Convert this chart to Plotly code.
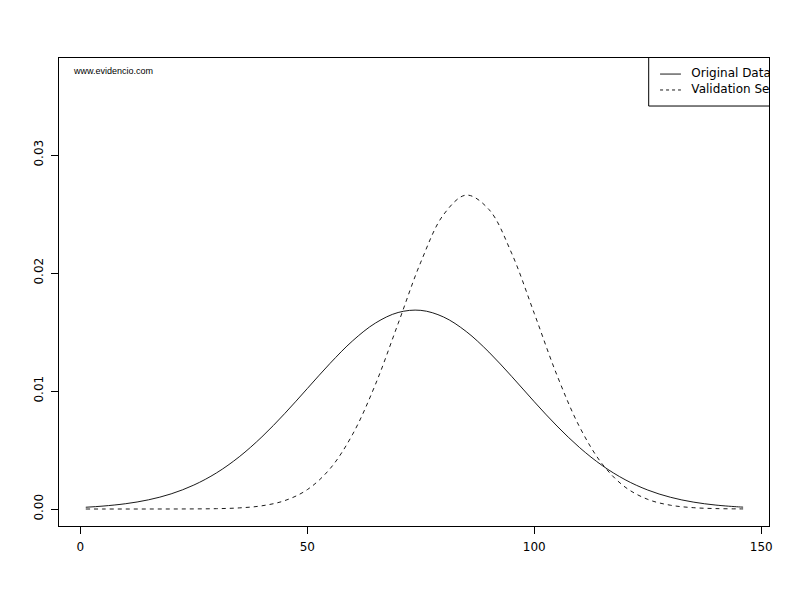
import plotly.graph_objects as go

# x positions where the density curves were read
x_vals = [1.2, 5, 10, 15, 20, 25, 30, 35, 40, 45, 50, 55, 60, 65, 70, 75, 80, 85,
          90, 95, 100, 105, 110, 115, 120, 125, 130, 135, 140, 145, 146]

original_data = [0.000150, 0.000249, 0.000450, 0.000777, 0.001283, 0.002029, 0.003062,
                 0.004424, 0.006115, 0.008079, 0.010209, 0.012338, 0.014259, 0.015757,
                 0.016654, 0.016835, 0.016274, 0.015043, 0.013298, 0.011243, 0.009089,
                 0.007029, 0.005197, 0.003674, 0.002485, 0.001606, 0.000994, 0.000588,
                 0.000333, 0.000180, 0.000158]

validation_set = [0.0, 0.0, 0.0, 0.0000004, 0.000002, 0.000008, 0.000029, 0.000094,
                  0.000273, 0.000708, 0.001642, 0.003412, 0.006344, 0.010553, 0.015710,
                  0.020923, 0.024941, 0.026600, 0.025388, 0.021682, 0.016570, 0.011333,
                  0.006935, 0.003797, 0.001861, 0.000816, 0.000320, 0.000113, 0.000035,
                  0.000010, 0.000008]

series_names = ["Original Data", "Validation Set"]
x_ticks = [0, 50, 100, 150]
y_ticks = [0.00, 0.01, 0.02, 0.03]
y_tick_labels = ["0.00", "0.01", "0.02", "0.03"]

XR = [-4.7, 151.7]
YR = [-0.00144, 0.03822]

fig = go.Figure()
fig.add_trace(go.Scatter(x=x_vals, y=original_data, mode="lines", name=series_names[0],
                         line=dict(color="black", width=0.9, shape="spline"),
                         showlegend=False))
fig.add_trace(go.Scatter(x=x_vals, y=validation_set, mode="lines", name=series_names[1],
                         line=dict(color="black", width=0.9, dash="4px,4px", shape="spline"),
                         showlegend=False))

# legend drawn inside the plot area (clipped by the plot box like the original)
leg_left = 125.2
leg_bottom = 0.03415
leg_y = [0.03686, 0.03551]
fig.add_shape(type="rect", xref="x", yref="y", x0=leg_left, x1=170, y0=leg_bottom, y1=0.045,
              line=dict(color="black", width=1), fillcolor="rgba(0,0,0,0)", layer="above")
fig.add_trace(go.Scatter(x=[127.7, 132.3], y=[leg_y[0]] * 2, mode="lines",
                         line=dict(color="black", width=0.9), showlegend=False, hoverinfo="skip"))
fig.add_trace(go.Scatter(x=[127.7, 132.3], y=[leg_y[1]] * 2, mode="lines",
                         line=dict(color="black", width=0.9, dash="3px,3px"),
                         showlegend=False, hoverinfo="skip"))
fig.add_trace(go.Scatter(x=[134.6, 134.6], y=leg_y, mode="text", text=series_names,
                         textposition="middle right", cliponaxis=True,
                         textfont=dict(family="DejaVu Sans", size=12, color="black"),
                         showlegend=False, hoverinfo="skip"))

fig.add_annotation(text="www.evidencio.com", xref="paper", yref="paper",
                   x=0.017, y=0.972, xanchor="left", yanchor="middle", showarrow=False,
                   font=dict(family="Liberation Sans Narrow, Liberation Sans", size=9, color="black"))

axis_common = dict(showgrid=False, zeroline=False, showline=True, linecolor="black",
                   linewidth=1, mirror=True, ticks="outside", ticklen=7, tickcolor="black",
                   tickwidth=1, tickfont=dict(family="DejaVu Sans", size=12, color="black"))

fig.update_xaxes(range=XR, tickvals=x_ticks, ticktext=[str(t) for t in x_ticks],
                 ticklabelstandoff=3, **axis_common)
fig.update_yaxes(range=YR, tickvals=y_ticks, ticktext=y_tick_labels, tickangle=-90,
                 ticklabelstandoff=3, **axis_common)

fig.update_layout(width=792, height=592, plot_bgcolor="white", paper_bgcolor="white",
                  margin=dict(l=51, r=31, t=50, b=74), showlegend=False)

fig.write_html("out.html")
